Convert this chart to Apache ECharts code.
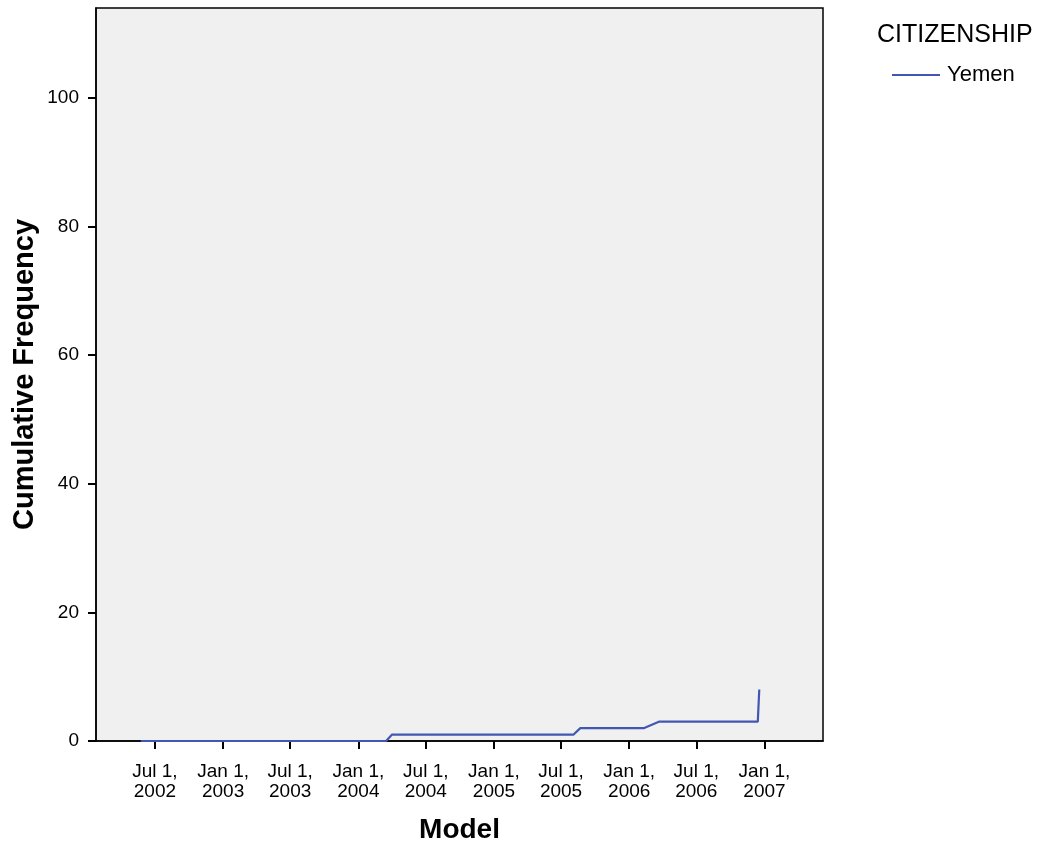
<!DOCTYPE html>
<html>
<head>
<meta charset="utf-8">
<script src="https://cdn.jsdelivr.net/npm/echarts@6/dist/echarts.min.js"></script>
<style>
  html, body { margin: 0; padding: 0; background: #fff; }
  #chart { width: 1044px; height: 844px; }
</style>
</head>
<body>
<div id="chart"></div>
<script>
// cumulative frequency for Yemen
var dates = ['2002-05-24', '2004-03-16', '2004-04-01', '2005-08-04', '2005-08-22',
             '2006-02-09', '2006-03-22', '2006-12-14', '2006-12-18'];
var cumFreq = [0, 0, 1, 1, 2, 2, 3, 3, 8];

var tickDates = ['2002-07-01', '2003-01-01', '2003-07-01', '2004-01-01', '2004-07-01',
                 '2005-01-01', '2005-07-01', '2006-01-01', '2006-07-01', '2007-01-01'];
var tickLabels = ['Jul 1,\n2002', 'Jan 1,\n2003', 'Jul 1,\n2003', 'Jan 1,\n2004', 'Jul 1,\n2004',
                  'Jan 1,\n2005', 'Jul 1,\n2005', 'Jan 1,\n2006', 'Jul 1,\n2006', 'Jan 1,\n2007'];
var yTicks = [0, 20, 40, 60, 80, 100];

function ts(d) { return Date.parse(d + 'T00:00:00Z'); }
var tickTs = tickDates.map(ts);
var seriesData = dates.map(function (d, i) { return [ts(d), cumFreq[i]]; });

var chart = echarts.init(document.getElementById('chart'));
var option = {
    animation: false,
    textStyle: { fontFamily: 'Liberation Sans, Arial, sans-serif' },
    title: {
        text: 'CITIZENSHIP',
        left: 877,
        top: 23,
        padding: 0,
        textStyle: { fontSize: 25, fontWeight: 'normal', color: '#000' }
    },
    legend: {
        left: 892,
        top: 64,
        padding: 0,
        icon: 'rect',
        itemWidth: 48,
        itemHeight: 2,
        textStyle: { fontSize: 22, color: '#000', padding: [0, 0, 0, 2] },
        data: ['Yemen']
    },
    grid: {
        left: 96,
        right: 221,
        top: 8,
        bottom: 103,
        outerBoundsMode: 'none',
        show: true,
        backgroundColor: '#f0f0f0',
        borderColor: '#000',
        borderWidth: 1.5
    },
    xAxis: {
        type: 'value',
        min: ts('2002-01-23'),
        max: ts('2007-06-08'),
        name: 'Model',
        nameLocation: 'middle',
        nameGap: 75,
        nameMoveOverlap: false,
        nameTextStyle: { fontSize: 28, fontWeight: 'bold', color: '#000' },
        axisLine: { lineStyle: { color: '#000', width: 1.5 } },
        axisTick: { customValues: tickTs, length: 8, lineStyle: { color: '#000', width: 2 } },
        axisLabel: {
            customValues: tickTs,
            fontSize: 19,
            color: '#000',
            lineHeight: 20,
            margin: 21,
            formatter: function (v) {
                var i = tickTs.indexOf(v);
                return i >= 0 ? tickLabels[i] : '';
            }
        },
        splitLine: { show: false }
    },
    yAxis: {
        type: 'value',
        min: 0,
        max: 114,
        name: 'Cumulative Frequency',
        nameLocation: 'middle',
        nameGap: 57,
        nameMoveOverlap: false,
        nameTextStyle: { fontSize: 29, fontWeight: 'bold', color: '#000' },
        axisLine: { show: true, lineStyle: { color: '#000', width: 1.5 } },
        axisTick: { show: true, customValues: yTicks, length: 8, lineStyle: { color: '#000', width: 2 } },
        axisLabel: { customValues: yTicks, fontSize: 19, color: '#000', margin: 17 },
        splitLine: { show: false }
    },
    series: [{
        name: 'Yemen',
        type: 'line',
        data: seriesData,
        showSymbol: false,
        symbol: 'none',
        lineStyle: { color: '#4257b2', width: 2.2 },
        itemStyle: { color: '#4257b2' }
    }]
};
chart.setOption(option);
</script>
</body>
</html>
